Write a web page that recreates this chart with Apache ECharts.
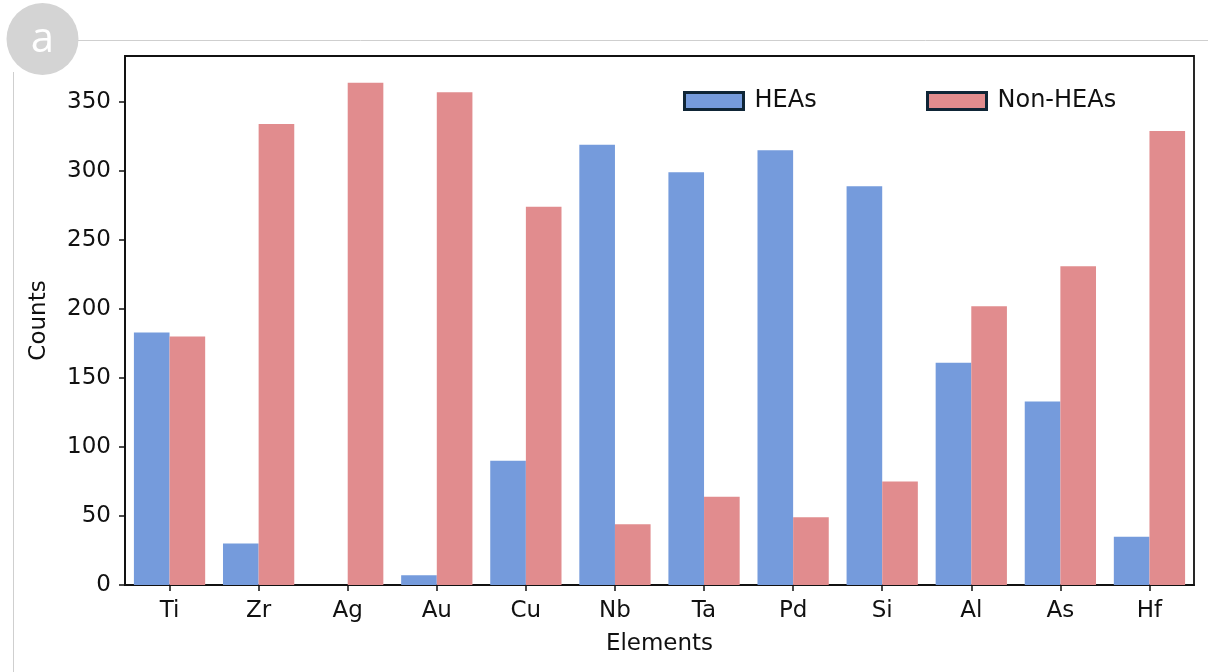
<!DOCTYPE html>
<html>
<head>
<meta charset="utf-8">
<script src="https://cdn.jsdelivr.net/npm/echarts@6/dist/echarts.min.js"></script>
<style>
html,body{margin:0;padding:0;background:#fff;}
#chart{width:1208px;height:672px;}
</style>
</head>
<body>
<div id="chart"></div>
<script>
const categories = ['Ti','Zr','Ag','Au','Cu','Nb','Ta','Pd','Si','Al','As','Hf'];
const heas = [183, 30, 0, 7, 90, 319, 299, 315, 289, 161, 133, 35];
const nonHeas = [180, 334, 364, 357, 274, 44, 64, 49, 75, 202, 231, 329];
const yTicks = [0, 50, 100, 150, 200, 250, 300, 350];

const FONT = 'DejaVu Sans';
const TXT = '#111';
const chart = echarts.init(document.getElementById('chart'), null, {renderer: 'canvas'});

const legendCommon = {
  top: 84,
  itemWidth: 59,
  itemHeight: 17,
  icon: 'rect',
  itemStyle: {borderColor: '#0f2536', borderWidth: 3},
  textStyle: {fontFamily: FONT, fontSize: 24, color: TXT, padding: [0, 0, 0, 6]},
  selectedMode: false
};

chart.setOption({
  animation: false,
  backgroundColor: '#fff',
  graphic: [
    {type: 'line', shape: {x1: 78, y1: 40.5, x2: 1208, y2: 40.5}, style: {stroke: '#cfcfcf', lineWidth: 1}, silent: true},
    {type: 'line', shape: {x1: 13.5, y1: 72, x2: 13.5, y2: 672}, style: {stroke: '#cfcfcf', lineWidth: 1}, silent: true},
    {type: 'circle', shape: {cx: 42.5, cy: 39, r: 36}, style: {fill: '#d4d4d4'}, silent: true},
    {type: 'text', x: 42.5, y: 40, style: {text: 'a', fill: '#fff', font: '42px "Open Sans"', textAlign: 'center', textVerticalAlign: 'middle'}, silent: true}
  ],
  grid: {left: 125, right: 14, top: 56, bottom: 87, show: true, borderColor: '#111', borderWidth: 1.8, backgroundColor: 'transparent'},
  legend: [
    Object.assign({data: ['HEAs'], left: 678}, legendCommon),
    Object.assign({data: ['Non-HEAs'], left: 921}, legendCommon)
  ],
  xAxis: {
    type: 'category',
    data: categories,
    name: 'Elements',
    nameLocation: 'middle',
    nameGap: 48,
    nameTextStyle: {fontFamily: FONT, fontSize: 23, color: TXT},
    axisLine: {show: true, lineStyle: {color: '#111', width: 1.8}},
    axisTick: {show: true, alignWithLabel: true, length: 6, lineStyle: {color: '#111', width: 1.5}},
    axisLabel: {fontFamily: FONT, fontSize: 23, color: TXT, margin: 15},
    splitLine: {show: false}
  },
  yAxis: {
    type: 'value',
    min: 0,
    max: 383.3,
    interval: 50,
    name: 'Counts',
    nameLocation: 'middle',
    nameGap: 74,
    nameTextStyle: {fontFamily: FONT, fontSize: 23, color: TXT},
    axisLine: {show: true, lineStyle: {color: '#111', width: 1.8}},
    axisTick: {show: true, length: 6, lineStyle: {color: '#111', width: 1.5}},
    axisLabel: {fontFamily: FONT, fontSize: 23, color: TXT, margin: 14, showMaxLabel: false,
      formatter: v => yTicks.includes(v) ? String(v) : ''},
    splitLine: {show: false}
  },
  series: [
    {name: 'HEAs', type: 'bar', data: heas, barGap: '0%', barCategoryGap: '20%',
      itemStyle: {color: '#759bdc', borderWidth: 0}},
    {name: 'Non-HEAs', type: 'bar', data: nonHeas, barGap: '0%', barCategoryGap: '20%',
      itemStyle: {color: '#e18c8e', borderWidth: 0}}
  ]
});
</script>
</body>
</html>
